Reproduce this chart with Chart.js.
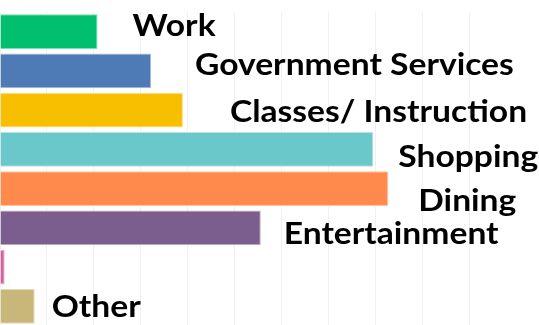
<!DOCTYPE html>
<html>
<head>
<meta charset="utf-8">
<script src="https://cdn.jsdelivr.net/npm/chart.js@4/dist/chart.umd.min.js"></script>
<style>
  html, body { margin: 0; padding: 0; background: #fff; overflow: hidden; }
  #wrap { position: relative; width: 539px; height: 326px; }
</style>
</head>
<body>
<div id="wrap"><canvas id="chartReasons"></canvas></div>
<script>
// Share of respondents by reason for the trip (percent).
const categories = ['Work', 'Government Services', 'Classes/ Instruction', 'Shopping',
  'Dining', 'Entertainment', '', 'Other'];
const shares = [10.4, 16.1, 19.5, 39.8, 41.4, 27.8, 0.5, 3.7];
const barColors = ['#00BF6F', '#4E7AB5', '#F8BE00', '#6AC7CA', '#FF8A4B', '#7C5E8E', '#D6619B', '#C7B87A'];
const edgeColors = ['#7FDDB5', '#A6BCDA', '#FCDE80', '#B4E3E4', '#FFC4A5', '#BDAEC6', '#EAB0CD', '#E3DBBC'];
// label nudges from the bar end: [dx, baseline dy]
const labelNudge = [[35, 4], [44, 4.5], [47, 12], [25, 17.5], [30, 22.5], [23, 16.5], [0, 0], [17, 10.5]];

// category names written to the right of each bar, stretched a little to read wide
const barLabels = {
  id: 'barLabels',
  afterDatasetsDraw(chart) {
    const ctx = chart.ctx;
    const meta = chart.getDatasetMeta(0);
    meta.data.forEach((bar, i) => {
      if (!categories[i]) return;
      const [dx, dy] = labelNudge[i];
      ctx.save();
      ctx.font = 'bold 30px Lato, "DejaVu Sans", sans-serif';
      ctx.fillStyle = '#000';
      ctx.textAlign = 'left';
      ctx.textBaseline = 'alphabetic';
      ctx.translate(bar.x + dx, bar.y + dy);
      ctx.scale(1.12, 1);
      ctx.fillText(categories[i], 0, 0);
      ctx.restore();
    });
  }
};

new Chart(document.getElementById('chartReasons').getContext('2d'), {
  type: 'bar',
  data: {
    labels: categories,
    datasets: [{
      data: shares,
      backgroundColor: barColors,
      borderColor: edgeColors,
      borderWidth: 1,
      barPercentage: 0.88,
      categoryPercentage: 1,
    }],
  },
  options: {
    indexAxis: 'y',
    responsive: true,
    maintainAspectRatio: false,
    animation: false,
    layout: { padding: { top: 12, right: 70, bottom: 0, left: 0 } },
    plugins: {
      legend: { display: false },
      tooltip: { enabled: false },
    },
    scales: {
      x: {
        min: 0,
        max: 50,
        ticks: { display: false, stepSize: 5 },
        grid: { color: '#F0F0F0', lineWidth: 1, drawTicks: false },
        border: { display: false },
      },
      y: {
        ticks: { display: false },
        grid: { display: false, drawTicks: false },
        border: { display: false },
      },
    },
  },
  plugins: [barLabels],
});
</script>
</body>
</html>
